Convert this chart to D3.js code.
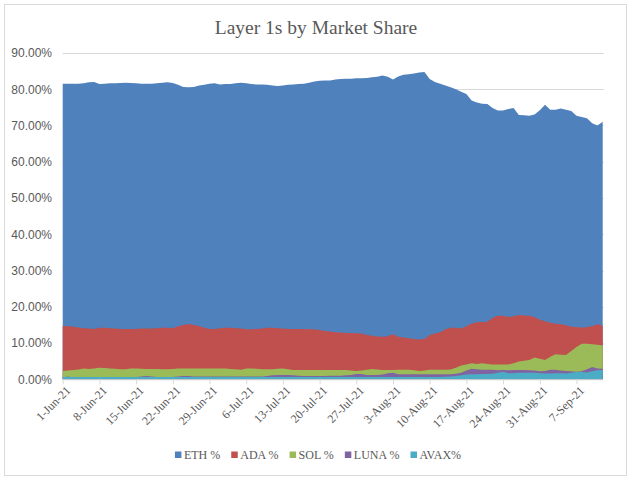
<!DOCTYPE html>
<html>
<head>
<meta charset="utf-8">
<script src="https://cdn.jsdelivr.net/npm/d3@7"></script>
<style>
  html, body { margin: 0; padding: 0; background: #ffffff; }
  svg { display: block; }
</style>
</head>
<body>
<svg id="chart" width="633" height="480"></svg>
<script>
// ---------------- DATA ----------------
const startDate = "1-Jun-21";
const endDate = "12-Sep-21";
const seriesNames = ["ETH %", "ADA %", "SOL %", "LUNA %", "AVAX%"];
const tickLabels = ["1-Jun-21", "8-Jun-21", "15-Jun-21", "22-Jun-21", "29-Jun-21", "6-Jul-21", "13-Jul-21",
  "20-Jul-21", "27-Jul-21", "3-Aug-21", "10-Aug-21", "17-Aug-21", "24-Aug-21", "31-Aug-21", "7-Sep-21"];
const yTicks = [0, 0.1, 0.2, 0.3, 0.4, 0.5, 0.6, 0.7, 0.8, 0.9];

// daily market share (%), 1-Jun-21 .. 12-Sep-21
const eth = [
  81.5, 81.5, 81.5, 81.5, 81.6, 81.9, 82.0, 81.4, 81.5, 81.6,
  81.6, 81.7, 81.8, 81.7, 81.6, 81.5, 81.5, 81.5, 81.6, 81.8,
  81.9, 81.7, 81.2, 80.6, 80.5, 80.6, 81.0, 81.2, 81.5, 81.6,
  81.3, 81.4, 81.4, 81.6, 81.8, 81.6, 81.4, 81.3, 81.3, 81.2,
  81.0, 80.9, 81.0, 81.2, 81.3, 81.4, 81.5, 81.8, 82.1, 82.3,
  82.4, 82.4, 82.7, 82.8, 82.9, 82.9, 83.0, 83.0, 83.1, 83.3,
  83.4, 83.8, 83.4, 82.7, 83.5, 84.0, 84.1, 84.3, 84.6, 84.7,
  82.8, 82.0, 81.5, 81.0, 80.5, 80.0, 79.3, 78.7, 76.9, 76.3,
  76.0, 75.9, 74.8, 74.1, 74.1, 74.5, 74.8, 72.9, 72.8, 72.7,
  73.0, 74.2, 75.7, 74.3, 74.3, 74.7, 74.3, 74.0, 72.7, 72.3,
  72.0, 70.6, 70.0, 71.0
];
const ada = [
  14.7, 14.6, 14.5, 14.3, 14.1, 14.0, 13.9, 14.2, 14.2, 14.1,
  14.0, 13.9, 13.9, 13.9, 13.9, 14.0, 14.0, 14.0, 14.1, 14.2,
  14.2, 14.1, 14.6, 15.0, 15.25, 15.0, 14.7, 14.2, 13.9, 13.9,
  14.1, 14.2, 14.2, 14.1, 14.0, 13.8, 13.8, 13.9, 14.0, 14.2,
  14.2, 14.1, 14.0, 13.9, 13.9, 13.9, 13.9, 13.8, 13.8, 13.6,
  13.3, 13.2, 13.0, 12.9, 12.8, 12.8, 12.7, 12.6, 12.2, 12.0,
  11.8, 11.7, 11.9, 12.4, 11.7, 11.5, 11.3, 11.1, 11.0, 11.1,
  12.2, 12.6, 13.0, 13.8, 14.2, 14.2, 14.0, 14.6, 15.4, 15.7,
  15.8, 15.9, 17.0, 17.5, 17.5, 17.2, 17.4, 17.7, 17.6, 17.5,
  17.2, 16.4, 16.0, 15.6, 15.3, 15.2, 14.9, 14.5, 14.4, 14.2,
  14.4, 14.6, 15.2, 14.8
];
const sol = [
  2.3, 2.4, 2.55, 2.7, 2.95, 2.85, 3.0, 3.2, 3.1, 3.0,
  2.9, 2.75, 2.8, 2.95, 3.0, 2.9, 2.85, 2.85, 2.85, 2.8,
  2.75, 2.85, 3.0, 3.0, 3.0, 3.0, 3.0, 3.0, 3.0, 3.0,
  3.0, 2.95, 2.85, 2.75, 2.65, 2.95, 3.0, 2.9, 2.8, 2.75,
  2.8, 2.9, 3.0, 2.8, 2.55, 2.55, 2.55, 2.55, 2.55, 2.55,
  2.55, 2.55, 2.55, 2.55, 2.55, 2.4, 2.3, 2.4, 2.6, 2.85,
  2.7, 2.55, 2.55, 2.55, 2.6, 2.6, 2.6, 2.5, 2.3, 2.4,
  2.6, 2.6, 2.6, 2.6, 2.7, 3.2, 3.8, 4.1, 4.4, 4.2,
  4.4, 4.2, 4.1, 4.1, 4.1, 4.1, 4.4, 4.9, 5.1, 5.3,
  6.0, 5.7, 5.3, 6.2, 6.9, 6.8, 6.7, 7.8, 8.9, 9.8,
  9.8, 9.65, 9.5, 9.3
];
const luna = [
  0.5, 0.8, 0.5, 0.5, 0.5, 0.5, 0.5, 0.5, 0.5, 0.5,
  0.5, 0.5, 0.5, 0.5, 0.6, 0.8, 0.9, 0.8, 0.6, 0.6,
  0.6, 0.6, 0.8, 0.9, 0.9, 0.8, 0.8, 0.8, 0.8, 0.8,
  0.8, 0.8, 0.8, 0.8, 0.8, 0.8, 0.8, 0.8, 0.8, 0.9,
  1.1, 1.2, 1.2, 1.2, 1.1, 1.0, 0.9, 0.9, 0.9, 0.9,
  0.9, 1.0, 1.0, 1.0, 1.1, 1.2, 1.45, 1.45, 1.2, 1.2,
  1.2, 1.3, 1.7, 1.8, 1.4, 1.4, 1.4, 1.4, 1.4, 1.4,
  1.4, 1.4, 1.4, 1.4, 1.4, 1.5, 1.8, 2.4, 2.9, 2.8,
  2.6, 2.6, 2.6, 2.5, 2.55, 2.5, 2.55, 2.55, 2.55, 2.5,
  2.4, 2.2, 2.3, 2.6, 2.6, 2.4, 2.3, 2.2, 2.1, 2.2,
  2.8, 3.4, 3.0, 2.9
];
const avax = [
  0.6, 0.6, 0.6, 0.6, 0.6, 0.6, 0.6, 0.65, 0.65, 0.65,
  0.65, 0.65, 0.65, 0.65, 0.65, 0.65, 0.65, 0.65, 0.65, 0.65,
  0.65, 0.65, 0.65, 0.65, 0.65, 0.65, 0.65, 0.65, 0.65, 0.65,
  0.65, 0.65, 0.65, 0.65, 0.65, 0.65, 0.65, 0.65, 0.65, 0.65,
  0.65, 0.65, 0.65, 0.65, 0.65, 0.65, 0.65, 0.65, 0.65, 0.65,
  0.65, 0.65, 0.65, 0.65, 0.65, 0.65, 0.65, 0.65, 0.65, 0.65,
  0.65, 0.65, 0.65, 0.65, 0.65, 0.65, 0.65, 0.65, 0.65, 0.65,
  0.65, 0.65, 0.65, 0.7, 0.75, 0.9, 1.1, 1.3, 1.4, 1.4,
  1.45, 1.45, 1.5, 1.8, 2.1, 1.7, 1.7, 1.8, 1.8, 1.8,
  1.8, 1.7, 1.6, 1.6, 1.7, 1.7, 1.6, 1.8, 2.0, 2.0,
  1.9, 2.2, 2.5, 2.55
];
const colors = ["#4F81BD", "#C0504D", "#9BBB59", "#8064A2", "#4BACC6"];

// ---------------- CHART ----------------
const parse = d3.timeParse("%d-%b-%y");
const dates = d3.timeDay.range(parse(startDate), d3.timeDay.offset(parse(endDate), 1));
const series = [eth, ada, sol, luna, avax];

const svg = d3.select("#chart");
const plotL = 62.7, plotR = 602.7, plotT = 52.9, plotB = 379.3;

const x = d3.scaleTime().domain([dates[0], dates[dates.length - 1]]).range([plotL, plotR]);
const y = d3.scaleLinear().domain([0, 0.9]).range([plotB, plotT]);

// chart border
svg.append("rect").attr("x", 4.5).attr("y", 4.5).attr("width", 622).attr("height", 471)
  .attr("fill", "#fff").attr("stroke", "#d9d9d9").attr("stroke-width", 1);

// title
svg.append("text").attr("x", 316).attr("y", 34)
  .attr("text-anchor", "middle")
  .style("font-family", "'Liberation Serif', serif").style("font-size", "19.5px")
  .attr("fill", "#595959").text("Layer 1s by Market Share");

// gridlines
svg.append("g").selectAll("line").data(yTicks.slice(1)).join("line")
  .attr("x1", plotL).attr("x2", plotR + 1)
  .attr("y1", d => Math.round(y(d)) + 0.5).attr("y2", d => Math.round(y(d)) + 0.5)
  .attr("stroke", "#d9d9d9").attr("stroke-width", 1);

// areas (overlapping, drawn in series order)
const area = d3.area()
  .x((d, i) => x(dates[i]))
  .y0(y(0))
  .y1(d => y(d / 100));
svg.append("g").selectAll("path").data(series).join("path")
  .attr("d", d => area(d))
  .attr("fill", (d, i) => colors[i]);

// y axis labels
const yAxis = d3.axisLeft(y).tickValues(yTicks).tickFormat(d3.format(".2%")).tickSize(0).tickPadding(0);
const gy = svg.append("g").attr("transform", `translate(${52},0)`).call(yAxis);
gy.select(".domain").remove();
gy.selectAll("text").style("font-family", "'Liberation Sans', Arial, sans-serif")
  .style("font-size", "12px").attr("fill", "#595959");

// x axis
const tickDates = tickLabels.map(parse);
const xAxis = d3.axisBottom(x).tickValues(tickDates).tickFormat(d3.timeFormat("%-d-%b-%y"))
  .tickSizeOuter(0).tickSizeInner(5);
const gx = svg.append("g").attr("transform", `translate(0,${plotB})`).call(xAxis);
gx.select(".domain").attr("stroke", "#d9d9d9").attr("d", `M${plotL},0.5H${plotR}`);
gx.selectAll(".tick line").attr("stroke", "#d9d9d9");
gx.selectAll(".tick text")
  .style("font-family", "'Liberation Serif', serif").style("font-size", "12px")
  .attr("fill", "#595959")
  .attr("text-anchor", "end")
  .attr("dy", "0.35em")
  .attr("transform", "translate(5,9) rotate(-45)")
  .attr("y", 0).attr("x", 0);

// legend
const lg = svg.append("g");
let cx = 0;
const gap = 11;
seriesNames.forEach((name, i) => {
  const g = lg.append("g").attr("transform", `translate(${cx},0)`);
  g.append("rect").attr("x", 0).attr("y", -3.5).attr("width", 6.5).attr("height", 6.5).attr("fill", colors[i]);
  const t = g.append("text").attr("x", 9).attr("y", 0).attr("dy", "0.35em")
    .style("font-family", "'Liberation Serif', serif").style("font-size", "12px")
    .attr("fill", "#595959").text(name);
  const w = t.node().getComputedTextLength();
  cx += 9 + w + gap;
});
const totalW = cx - gap;
lg.attr("transform", `translate(${318 - totalW / 2},455)`);
</script>
</body>
</html>
